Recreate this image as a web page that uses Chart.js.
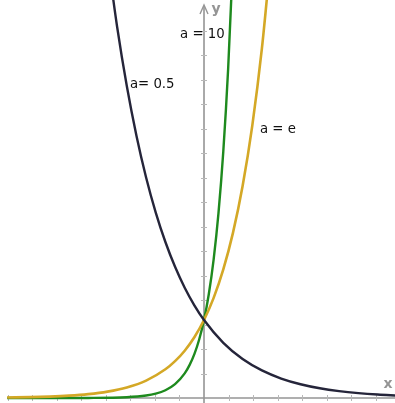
<!DOCTYPE html>
<html>
<head>
<meta charset="utf-8">
<script src="https://cdn.jsdelivr.net/npm/chart.js@4/dist/chart.umd.min.js"></script>
<style>
html,body{margin:0;padding:0;background:#fff;}
#c{display:block;}
</style>
</head>
<body>
<canvas id="c" width="395" height="403"></canvas>
<script>
// Series: y = a^x for a = 0.5, e, 10
const xHalf = [-2.5, -2.25, -2, -1.75, -1.5, -1.25, -1, -0.75, -0.5, -0.25, 0, 0.5, 1, 1.5, 2, 2.5, 3, 3.5, 4, 4.5, 5];
const yHalf = [5.657, 4.757, 4, 3.364, 2.828, 2.378, 2, 1.682, 1.414, 1.189, 1, 0.7071, 0.5, 0.3536, 0.25, 0.1768, 0.125, 0.0884, 0.0625, 0.0442, 0.03125];

const xE = [-5.1, -4.5, -4, -3.5, -3, -2.5, -2, -1.5, -1, -0.75, -0.5, -0.25, 0, 0.25, 0.5, 0.75, 1, 1.25, 1.5, 1.75];
const yE = [0.0061, 0.01111, 0.01832, 0.0302, 0.04979, 0.08208, 0.1353, 0.2231, 0.3679, 0.4724, 0.6065, 0.7788, 1, 1.284, 1.6487, 2.117, 2.7183, 3.490, 4.4817, 5.7546];

const xTen = [-5.1, -4, -3, -2, -1.5, -1.25, -1, -0.75, -0.5, -0.375, -0.25, -0.125, 0, 0.125, 0.25, 0.375, 0.5, 0.625, 0.75];
const yTen = [0.000008, 0.0001, 0.001, 0.01, 0.0316, 0.0562, 0.1, 0.1778, 0.3162, 0.4217, 0.5623, 0.7499, 1, 1.3335, 1.7783, 2.3714, 3.1623, 4.2170, 5.6234];

const seriesNames = ['a= 0.5', 'a = e', 'a = 10'];
// label anchor points (data units)
const labelX = [-1.92, 1.45, -0.62];
const labelY = [4.02, 3.44, 4.66];

const axisNames = ['x', 'y'];
const tickStepX = 0.635;
const tickStepY = 0.314;

function pts(xs, ys){ return xs.map((x,i)=>({x:x, y:ys[i]})); }

const axesPlugin = {
  id: 'axes',
  beforeDatasetsDraw(chart){
    const ctx = chart.ctx, xs = chart.scales.x, ys = chart.scales.y;
    const x0 = xs.getPixelForValue(0), y0 = ys.getPixelForValue(0);
    ctx.save();
    ctx.strokeStyle = '#959595';
    ctx.lineWidth = 1.6;
    ctx.beginPath();
    ctx.moveTo(xs.left + 7, y0); ctx.lineTo(xs.right, y0);
    ctx.moveTo(x0, ys.bottom); ctx.lineTo(x0, ys.top + 6);
    ctx.stroke();
    // arrow head y
    ctx.lineWidth = 1.4;
    ctx.beginPath();
    ctx.moveTo(x0 - 4, ys.top + 14); ctx.lineTo(x0, ys.top + 5); ctx.lineTo(x0 + 4, ys.top + 14);
    ctx.stroke();
    // ticks
    ctx.strokeStyle = '#b8b8b8';
    ctx.lineWidth = 1;
    ctx.beginPath();
    for (let v = tickStepX; v < xs.max - 0.05; v += tickStepX){
      const p = Math.round(xs.getPixelForValue(v)) + 0.5;
      ctx.moveTo(p, y0 - 3); ctx.lineTo(p, y0 + 3);
    }
    for (let v = -tickStepX; v > xs.min + 0.15; v -= tickStepX){
      const p = Math.round(xs.getPixelForValue(v)) + 0.5;
      ctx.moveTo(p, y0 - 3); ctx.lineTo(p, y0 + 3);
    }
    for (let v = tickStepY; v < ys.max - 0.3; v += tickStepY){
      const p = Math.round(ys.getPixelForValue(v)) + 0.5;
      ctx.moveTo(x0 - 3, p); ctx.lineTo(x0 + 3, p);
    }
    ctx.stroke();
    // axis names
    ctx.fillStyle = '#959595';
    ctx.font = 'bold 14px "DejaVu Sans"';
    ctx.textBaseline = 'middle';
    ctx.textAlign = 'center';
    ctx.fillText(axisNames[0], xs.right - 7, y0 - 14);
    ctx.fillText(axisNames[1], x0 + 12, ys.top + 9);
    ctx.restore();
  },
  afterDatasetsDraw(chart){
    const ctx = chart.ctx, xs = chart.scales.x, ys = chart.scales.y;
    ctx.save();
    ctx.fillStyle = '#111';
    ctx.font = '13.3px "DejaVu Sans"';
    ctx.textBaseline = 'middle';
    ctx.textAlign = 'left';
    seriesNames.forEach((n,i)=>{
      ctx.fillText(n, xs.getPixelForValue(labelX[i]), ys.getPixelForValue(labelY[i]));
    });
    ctx.restore();
  }
};

new Chart(document.getElementById('c'), {
  type: 'line',
  data: {
    datasets: [
      { label: seriesNames[0], data: pts(xHalf, yHalf), borderColor: '#25253a', borderWidth: 2.4 },
      { label: seriesNames[1], data: pts(xE, yE), borderColor: '#d4a826', borderWidth: 2.6 },
      { label: seriesNames[2], data: pts(xTen, yTen), borderColor: '#1e8a1e', borderWidth: 2.4 }
    ]
  },
  options: {
    responsive: false,
    animation: false,
    layout: { padding: 0 },
    elements: { point: { radius: 0 }, line: { cubicInterpolationMode: 'monotone', fill: false } },
    plugins: { legend: { display: false }, tooltip: { enabled: false } },
    scales: {
      x: { type: 'linear', min: -5.285, max: 4.948, display: false },
      y: { type: 'linear', min: -0.064, max: 5.103, display: false }
    }
  },
  plugins: [axesPlugin]
});
</script>
</body>
</html>
